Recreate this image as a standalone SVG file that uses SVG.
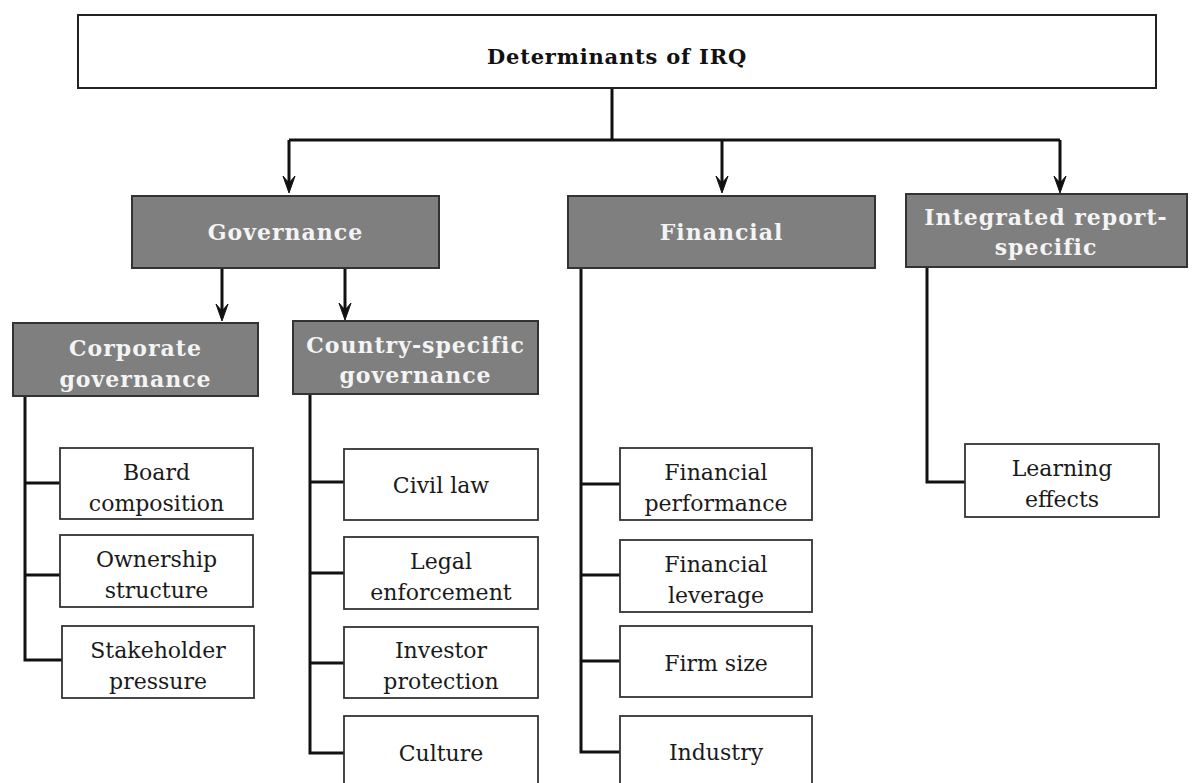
<svg xmlns="http://www.w3.org/2000/svg" width="1200" height="783" viewBox="0 0 1200 783">
<style>
.bg{fill:#ffffff}
.top{fill:#ffffff;stroke:#222;stroke-width:2}
.dark{fill:#7f7f7f;stroke:#333;stroke-width:2}
.leaf{fill:#ffffff;stroke:#333;stroke-width:1.8}
.ttl{font-family:"DejaVu Serif","Liberation Serif",serif;font-weight:bold;font-size:21px;fill:#111;text-anchor:middle;letter-spacing:0.8px}
.hd{font-family:"DejaVu Serif","Liberation Serif",serif;font-weight:bold;font-size:22px;fill:#f4f4f4;text-anchor:middle;letter-spacing:1px}
.lf{font-family:"DejaVu Serif","Liberation Serif",serif;font-size:22px;fill:#1a1a1a;text-anchor:middle}
.ln{fill:none;stroke:#111;stroke-width:3}
</style>
<rect class="bg" width="1200" height="783"/>

<g id="connectors">
<path class="ln" d="M612,88 V140 M289,140 H1060"/>
<path class="ln" d="M289,140 V185"/>
<path class="ln" d="M722,140 V185"/>
<path class="ln" d="M1060,140 V185"/>
<path class="ln" d="M222,268 V313"/>
<path class="ln" d="M345,268 V312"/>
<path class="ln" d="M25,396 V660 H62 M25,483 H60 M25,575 H60"/>
<path class="ln" d="M310,394 V753 H344 M310,482 H344 M310,573 H344 M310,663 H344"/>
<path class="ln" d="M581,268 V752 H620 M581,484 H620 M581,575 H620 M581,661 H620"/>
<path class="ln" d="M927,267 V482 H965"/>
<path d="M283,176 L289,193 L295,176 L289,183 Z M716,176 L722,193 L728,176 L722,183 Z M1054,176 L1060,193 L1066,176 L1060,183 Z M216,304 L222,321 L228,304 L222,311 Z M339,303 L345,320 L351,303 L345,310 Z" fill="#111" stroke="#111" stroke-width="1"/>
</g>

<g id="root">
<rect class="top" x="78" y="15" width="1078" height="73"/>
<text class="ttl" x="617" y="64">Determinants of IRQ</text>
</g>

<g id="governance">
<rect class="dark" x="132" y="196" width="307" height="72"/>
<text class="hd" x="285.5" y="240">Governance</text>
</g>
<g id="financial">
<rect class="dark" x="568" y="196" width="307" height="72"/>
<text class="hd" x="721.5" y="240">Financial</text>
</g>
<g id="integrated">
<rect class="dark" x="906" y="194" width="281" height="73"/>
<text class="hd" x="1046" y="225">Integrated report-</text>
<text class="hd" x="1046" y="255">specific</text>
</g>
<g id="corporate">
<rect class="dark" x="13" y="323" width="245" height="73"/>
<text class="hd" x="135.5" y="356">Corporate</text>
<text class="hd" x="135.5" y="387">governance</text>
</g>
<g id="country">
<rect class="dark" x="293" y="321" width="245" height="73"/>
<text class="hd" x="415.5" y="353">Country-specific</text>
<text class="hd" x="415.5" y="383">governance</text>
</g>

<g id="board">
<rect class="leaf" x="60" y="448" width="193" height="71"/>
<text class="lf" x="156.5" y="480">Board</text>
<text class="lf" x="156.5" y="511">composition</text>
</g>
<g id="ownership">
<rect class="leaf" x="60" y="535" width="193" height="72"/>
<text class="lf" x="156.5" y="567">Ownership</text>
<text class="lf" x="156.5" y="598">structure</text>
</g>
<g id="stakeholder">
<rect class="leaf" x="62" y="626" width="192" height="72"/>
<text class="lf" x="158" y="658">Stakeholder</text>
<text class="lf" x="158" y="689">pressure</text>
</g>

<g id="civil">
<rect class="leaf" x="344" y="449" width="194" height="71"/>
<text class="lf" x="441" y="493">Civil law</text>
</g>
<g id="legal">
<rect class="leaf" x="344" y="537" width="194" height="72"/>
<text class="lf" x="441" y="569">Legal</text>
<text class="lf" x="441" y="600">enforcement</text>
</g>
<g id="investor">
<rect class="leaf" x="344" y="627" width="194" height="71"/>
<text class="lf" x="441" y="658">Investor</text>
<text class="lf" x="441" y="689">protection</text>
</g>
<g id="culture">
<rect class="leaf" x="344" y="716" width="194" height="80"/>
<text class="lf" x="441" y="761">Culture</text>
</g>

<g id="finperf">
<rect class="leaf" x="620" y="448" width="192" height="72"/>
<text class="lf" x="716" y="480">Financial</text>
<text class="lf" x="716" y="511">performance</text>
</g>
<g id="finlev">
<rect class="leaf" x="620" y="540" width="192" height="72"/>
<text class="lf" x="716" y="572">Financial</text>
<text class="lf" x="716" y="603">leverage</text>
</g>
<g id="firmsize">
<rect class="leaf" x="620" y="626" width="192" height="71"/>
<text class="lf" x="716" y="671">Firm size</text>
</g>
<g id="industry">
<rect class="leaf" x="620" y="716" width="192" height="80"/>
<text class="lf" x="716" y="760">Industry</text>
</g>

<g id="learning">
<rect class="leaf" x="965" y="444" width="194" height="73"/>
<text class="lf" x="1062" y="476">Learning</text>
<text class="lf" x="1062" y="507">effects</text>
</g>
</svg>
